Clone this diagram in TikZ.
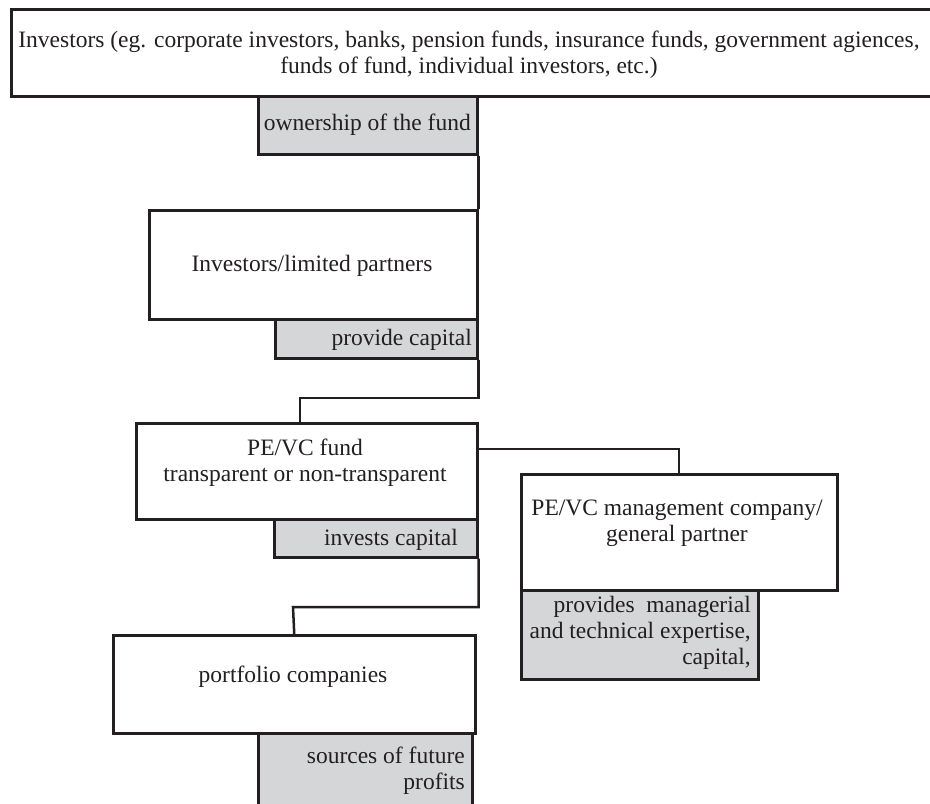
\documentclass[tikz,border=0pt]{standalone}
\usepackage{fontspec}
\setmainfont{Liberation Serif}
\definecolor{ink}{HTML}{231F20}
\definecolor{shade}{HTML}{D5D6D8}
\begin{document}
\begin{tikzpicture}[x=1pt,y=-1pt,
  frame/.style={draw=ink, line width=2.5pt, inner sep=0pt, anchor=north west},
  wbox/.style={frame, fill=white},
  gbox/.style={frame, fill=shade},
  txt/.style={text=ink, inner sep=0pt, font=\fontsize{23.5}{26}\selectfont},
  link/.style={draw=ink, line width=2.5pt}]
\clip (0,0) rectangle (930,804);
\fill[white] (0,0) rectangle (930,804);

% boxes
\node[wbox, minimum width=940pt, minimum height=87pt]  (top)  at (10,8) {};
\node[gbox, minimum width=219pt, minimum height=58pt]  (own)  at (257,95) {};
\node[wbox, minimum width=328pt, minimum height=109pt] (lp)   at (148,209) {};
\node[gbox, minimum width=202pt, minimum height=39pt]  (cap1) at (274,318) {};
\node[wbox, minimum width=341pt, minimum height=96pt]  (fund) at (135,422) {};
\node[gbox, minimum width=203pt, minimum height=38pt]  (cap2) at (273,518) {};
\node[wbox, minimum width=316pt, minimum height=116pt] (mgmt) at (520,473) {};
\node[gbox, minimum width=237pt, minimum height=89pt]  (exp)  at (520,589) {};
\node[wbox, minimum width=362pt, minimum height=98pt]  (port) at (112,634) {};
\node[gbox, minimum width=214pt, minimum height=90pt]  (src)  at (257,732) {};

% texts
\node[txt, align=center, anchor=north] (ttop) at (469,31)
  {Investors (eg. corporate investors, banks, pension funds, insurance funds, government agiences,\\
   funds of fund, individual investors, etc.)};
\node[txt, anchor=base east] (town) at (471,130) {ownership of the fund};
\node[txt, anchor=base] (tlp) at (312,271) {Investors/limited partners};
\node[txt, anchor=base east] (tcap1) at (472,345) {provide capital};
\node[txt, align=center, anchor=north] (tfund) at (305,439)
  {PE/VC fund\\ transparent or non-transparent};
\node[txt, anchor=base east] (tcap2) at (458,545) {invests capital};
\node[txt, align=center, anchor=north] (tmgmt) at (677,500)
  {PE/VC management company/\\ general partner};
\node[txt, align=right, anchor=north east] (texp) at (751,596)
  {provides~ managerial\\ and technical expertise,\\ capital,};
\node[txt, anchor=base] (tport) at (293,682) {portfolio companies};
\node[txt, align=right, anchor=north east] (tsrc) at (465,747)
  {sources of future\\ profits};

% connectors
\coordinate (k1) at (300,398);
\coordinate (k2) at (679,449);
\coordinate (k3) at (293,607);
\draw[link] (own.south east) -- (lp.north east);
\draw[link] (cap1.south east) |- (k1) -- (k1 |- fund.north);
\draw[link] (fund.north east |- k2) -- (k2) -- (k2 |- mgmt.north);
\draw[link] (cap2.south east) |- (k3) -- (port.north);
\end{tikzpicture}
\end{document}
